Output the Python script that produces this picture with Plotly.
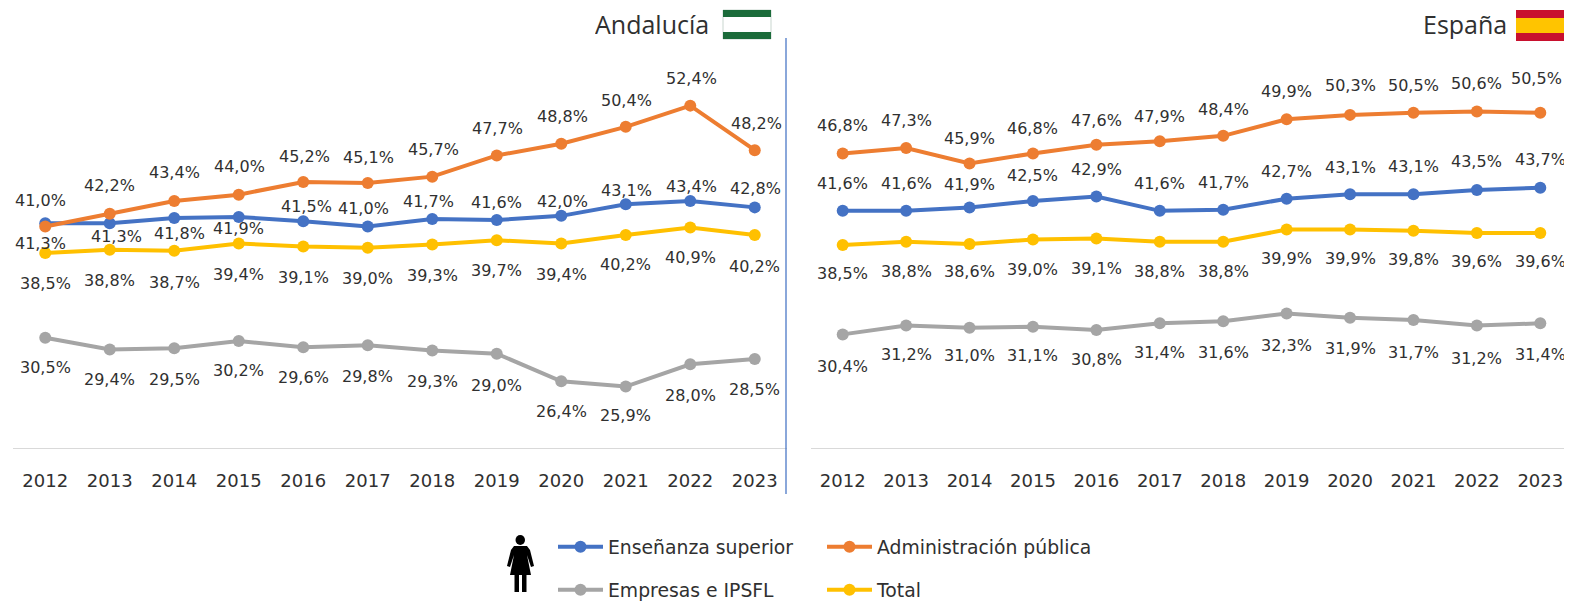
import plotly.graph_objects as go

# Browser page keeps its default 8 px body margin, so the figure starts at (8, 8)
PAGE = 8
W, H = 1572 - PAGE, 603 - PAGE
years = [str(y) for y in range(2012, 2024)]
names = ["Enseñanza superior", "Administración pública", "Empresas e IPSFL", "Total"]
colors = ["#4472C4", "#ED7D31", "#A5A5A5", "#FFC000"]

and_sup = [41.3, 41.3, 41.8, 41.9, 41.5, 41.0, 41.7, 41.6, 42.0, 43.1, 43.4, 42.8]
and_adm = [41.0, 42.2, 43.4, 44.0, 45.2, 45.1, 45.7, 47.7, 48.8, 50.4, 52.4, 48.2]
and_emp = [30.5, 29.4, 29.5, 30.2, 29.6, 29.8, 29.3, 29.0, 26.4, 25.9, 28.0, 28.5]
and_tot = [38.5, 38.8, 38.7, 39.4, 39.1, 39.0, 39.3, 39.7, 39.4, 40.2, 40.9, 40.2]

esp_sup = [41.6, 41.6, 41.9, 42.5, 42.9, 41.6, 41.7, 42.7, 43.1, 43.1, 43.5, 43.7]
esp_adm = [46.8, 47.3, 45.9, 46.8, 47.6, 47.9, 48.4, 49.9, 50.3, 50.5, 50.6, 50.5]
esp_emp = [30.4, 31.2, 31.0, 31.1, 30.8, 31.4, 31.6, 32.3, 31.9, 31.7, 31.2, 31.4]
esp_tot = [38.5, 38.8, 38.6, 39.0, 39.1, 38.8, 38.8, 39.9, 39.9, 39.8, 39.6, 39.6]

# label offsets (styling only): pixels above the point
and_sup_up = [-20, -13, -16, -12, 15, 18, 18, 18, 14, 14, 15, 19]
and_sup_dx = [-5, 7, 5, 0, 3, -4, -4, 0, 1, 1, 1, 1]
and_adm_up = [26, 28, 29, 28, 25, 26, 27, 27, 27, 26, 27, 27]
and_adm_dx = [-5, 0, 0, 1, 1, 1, 1, 1, 1, 1, 1, 2]
and_emp_up = [-30, -30, -31, -30, -30, -31, -31, -32, -30, -29, -31, -31]
and_tot_up = [-31, -31, -32, -31, -31, -31, -31, -30, -31, -30, -30, -32]
esp_sup_up = [27, 27, 23, 25, 27, 27, 27, 27, 27, 28, 28, 28]
esp_adm_up = [28, 27, 25, 25, 24, 25, 26, 28, 29, 27, 28, 34]
esp_adm_dx = [0, 0, 0, 0, 0, 0, 0, 0, 0, 0, 0, -4]
esp_emp_up = [-32, -29, -28, -29, -30, -29, -31, -32, -31, -32, -33, -31]
esp_tot_up = [-28, -30, -28, -30, -30, -30, -30, -29, -29, -29, -29, -29]
zeros = [0] * 12

FONT = "DejaVu Sans"
TITLE_FONT = "Open Sans"
TXT = "#303030"
LABEL_SIZE = 16
TICK_SIZE = 18
LEG_SIZE = 18.8

fig = go.Figure()
panels = [
    ("x", "y", [and_sup, and_adm, and_emp, and_tot],
     [and_sup_up, and_adm_up, and_emp_up, and_tot_up], [and_sup_dx, and_adm_dx, zeros, zeros]),
    ("x2", "y2", [esp_sup, esp_adm, esp_emp, esp_tot],
     [esp_sup_up, esp_adm_up, esp_emp_up, esp_tot_up], [zeros, esp_adm_dx, zeros, zeros]),
]
annotations = []
for p, (xa, ya, series, ups, dxs) in enumerate(panels):
    for i, vals in enumerate(series):
        fig.add_trace(go.Scatter(
            x=years, y=vals, xaxis=xa, yaxis=ya, mode="lines+markers", name=names[i],
            line=dict(color=colors[i], width=4), marker=dict(color=colors[i], size=12),
            showlegend=(p == 0), legend="legend" if i < 2 else "legend2", cliponaxis=False,
            hoverinfo="skip"))
        for k, v in enumerate(vals):
            annotations.append(dict(
                x=k, y=v, xref=xa, yref=ya, yshift=ups[i][k], xshift=dxs[i][k],
                text=f"{v:.1f}%".replace(".", ","), showarrow=False,
                font=dict(family=FONT, size=LABEL_SIZE, color=TXT)))


def px(x):
    return (x - PAGE) / W


def py(y):
    return 1 - (y - PAGE) / H


annotations += [
    dict(x=px(711), y=py(24), xref="paper", yref="paper", xanchor="right", yanchor="middle", height=30,
         text="Andalucía", showarrow=False, font=dict(family=TITLE_FONT, size=25, color=TXT)),
    dict(x=px(1509), y=py(24), xref="paper", yref="paper", xanchor="right", yanchor="middle", height=30,
         text="España", showarrow=False, font=dict(family=TITLE_FONT, size=25, color=TXT)),
]


def rect(x0, y0, x1, y1, color, lw=0, lc=None):
    return dict(type="rect", xref="paper", yref="paper", x0=px(x0), x1=px(x1), y0=py(y0), y1=py(y1),
                fillcolor=color, line=dict(width=lw, color=lc or color), layer="above")


def poly(points, color):
    d = "M " + " L ".join(f"{px(a):.5f},{py(b):.5f}" for a, b in points) + " Z"
    return dict(type="path", xref="paper", yref="paper", path=d, fillcolor=color,
                line=dict(width=0), layer="above")


BLK = "#000000"
shapes = [
    dict(type="line", xref="paper", yref="paper", x0=px(786), x1=px(786), y0=py(38), y1=py(494),
         line=dict(color="#4472C4", width=1.25)),
    # Andalucia flag
    rect(723, 10, 771, 39, "#FFFFFF", 1, "#C9D6CF"),
    rect(723, 10, 771, 17, "#1B6B3A"),
    rect(723, 32, 771, 39, "#1B6B3A"),
    # Spain flag
    rect(1516, 10, 1564, 41, "#C8102E"),
    rect(1516, 18, 1564, 33, "#FFC400"),
    # woman pictogram
    dict(type="circle", xref="paper", yref="paper", x0=px(515.5), x1=px(525), y0=py(535), y1=py(545),
         fillcolor=BLK, line=dict(width=0), layer="above"),
    poly([(514, 546), (527, 546), (530, 550), (534, 566), (531, 567), (527, 555),
          (531, 575), (510, 575), (514, 555), (510, 567), (507, 566), (511, 550)], BLK),
    rect(514.5, 575, 519, 592, BLK),
    rect(522, 575, 526.5, 592, BLK),
]

axis_x = dict(type="category", range=[-0.5, 11.5], showgrid=False, zeroline=False, showline=True,
              linecolor="#D9D9D9", linewidth=1, ticks="outside", ticklen=16, tickcolor="rgba(0,0,0,0)",
              tickfont=dict(family=FONT, size=TICK_SIZE, color=TXT))
axis_y = dict(showgrid=False, zeroline=False, showticklabels=False, showline=False,
              domain=[py(448), py(38)])

leg = dict(orientation="h", xanchor="left", yanchor="middle", itemwidth=45, entrywidth=209,
           entrywidthmode="pixels", bgcolor="rgba(0,0,0,0)", traceorder="normal",
           itemclick=False, itemdoubleclick=False,
           font=dict(family=FONT, size=LEG_SIZE, color=TXT))

fig.update_layout(
    width=W, height=H, margin=dict(l=0, r=0, t=0, b=0, autoexpand=False), autosize=False,
    plot_bgcolor="white", paper_bgcolor="white", showlegend=True,
    xaxis=dict(axis_x, domain=[px(13), px(787)]),
    xaxis2=dict(axis_x, domain=[px(811), 1.0], anchor="y2"),
    yaxis=dict(axis_y, range=[20.1, 58.78]),
    yaxis2=dict(axis_y, range=[20.1, 57.27], anchor="x2"),
    legend=dict(leg, x=px(553), y=py(547)),
    legend2=dict(leg, x=px(553), y=py(590)),
    annotations=annotations, shapes=shapes,
)
fig.write_html("out.html")
